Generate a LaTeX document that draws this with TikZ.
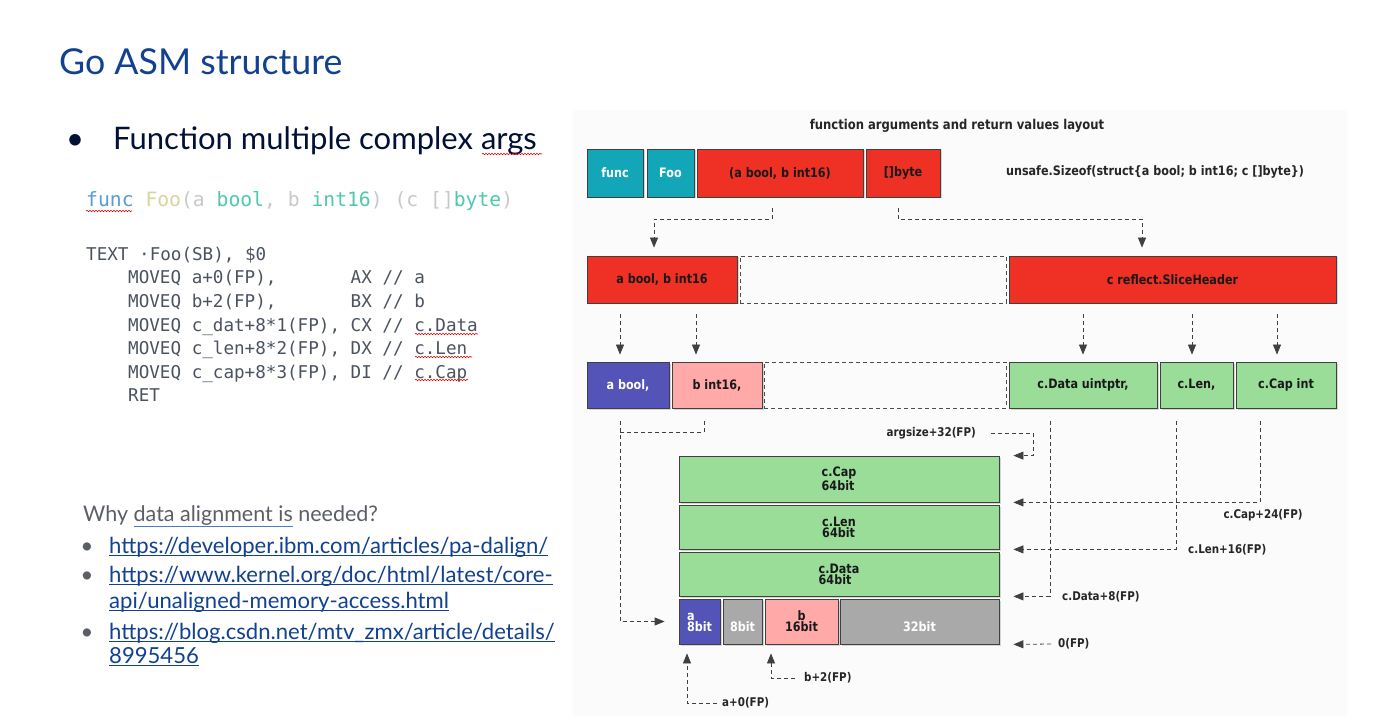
\documentclass[tikz,border=0pt]{standalone}
\usepackage{fontspec}
\usepackage{xcolor}
\usepackage{tikz}
\usetikzlibrary{arrows.meta}
\usetikzlibrary{shadows}
\usetikzlibrary{decorations.pathmorphing}

\setmainfont{Lato}
\newfontfamily\codefont{DejaVu Sans Mono}
\newfontfamily\dgfont{DejaVu Sans}[FakeStretch=0.86]

\definecolor{nokiablue}{HTML}{124191}
\definecolor{inkdark}{HTML}{001135}
\definecolor{whygray}{HTML}{5A5F66}
\definecolor{asmgray}{HTML}{4B5361}
\definecolor{kwblue}{HTML}{569CD6}
\definecolor{fnyellow}{HTML}{D7D59E}
\definecolor{typeteal}{HTML}{4EC9B0}
\definecolor{punctgray}{HTML}{C8C8C8}
\definecolor{markblue}{HTML}{4A7BD0}
\definecolor{goTeal}{HTML}{13A6B9}
\definecolor{goRed}{HTML}{EE3124}
\definecolor{goBlue}{HTML}{5353B8}
\definecolor{goPink}{HTML}{FFA9A9}
\definecolor{goGreen}{HTML}{9ADD99}
\definecolor{goGray}{HTML}{A9A9A9}

\begin{document}
\begin{tikzpicture}[
  x=1pt, y=-1pt,
  box/.style={draw=black!75, line width=0.8pt, inner sep=0pt,
    font=\dgfont\bfseries\fontsize{13}{11}\selectfont,
    drop shadow={opacity=0.3, shadow xshift=1.5pt, shadow yshift=-1.5pt}},
  tealbox/.style={box, fill=goTeal, text=white},
  redbox/.style={box, fill=goRed, text=black!90},
  bluebox/.style={box, fill=goBlue, text=white},
  pinkbox/.style={box, fill=goPink, text=black!90},
  greenbox/.style={box, fill=goGreen, text=black!90},
  graybox/.style={box, fill=goGray, text=white},
  hole/.style={draw=black!70, line width=0.8pt, dash pattern=on 4pt off 3pt, inner sep=0pt},
  dline/.style={draw=black!75, line width=0.8pt, dash pattern=on 4pt off 3pt},
  flow/.style={dline, -{Triangle[length=10pt, width=8pt]}},
  tag/.style={font=\dgfont\bfseries\fontsize{12}{13}\selectfont, text=black!85, inner sep=1pt},
  slide/.style={inner sep=0pt, anchor=base west},
  squiggle/.style={draw=red!85!black, line width=0.6pt, decorate,
    decoration={snake, amplitude=0.7pt, segment length=3pt}},
  uline/.style={draw=nokiablue, line width=0.9pt},
]
  \path[fill=white] (0,0) rectangle (1387,727);
  \useasboundingbox (0,0) rectangle (1387,727);
  \fill[black!1.5] (573,110) rectangle (1347,716);

  % Slide text
  \node[slide, font=\fontsize{35.7}{38}\selectfont, text=nokiablue] (title) at (59,75) {Go ASM structure};
  \node[inner sep=0pt, anchor=base, font=\fontsize{31}{32}\selectfont, text=inkdark] (dot) at (75,150) {•};
  \node[slide, font=\fontsize{31}{32}\selectfont, text=inkdark] (point) at (113,150) {Function multiple complex args};

  \node[slide, font=\codefont\fontsize{19.7}{20}\selectfont] (sig) at (86,207)
    {\textcolor{kwblue}{func} \textcolor{fnyellow}{Foo}\textcolor{punctgray}{(a }\textcolor{typeteal}{bool}\textcolor{punctgray}{, b }\textcolor{typeteal}{int16}\textcolor{punctgray}{) (c []}\textcolor{typeteal}{byte}\textcolor{punctgray}{)}};

  \node[slide, font=\codefont\fontsize{17.6}{18}\selectfont, text=asmgray] (asm0) at (86,261) {TEXT ·Foo(SB), \$0};
  \node[slide, font=\codefont\fontsize{17.6}{18}\selectfont, text=asmgray] (asm1) at (128,284) {MOVEQ a+0(FP),\ \ \ \ \ \ \ AX // a};
  \node[slide, font=\codefont\fontsize{17.6}{18}\selectfont, text=asmgray] (asm2) at (128,307.5) {MOVEQ b+2(FP),\ \ \ \ \ \ \ BX // b};
  \node[slide, font=\codefont\fontsize{17.6}{18}\selectfont, text=asmgray] (asm3) at (128,331) {MOVEQ c\_dat+8*1(FP), CX // c.Data};
  \node[slide, font=\codefont\fontsize{17.6}{18}\selectfont, text=asmgray] (asm4) at (128,354.5) {MOVEQ c\_len+8*2(FP), DX // c.Len};
  \node[slide, font=\codefont\fontsize{17.6}{18}\selectfont, text=asmgray] (asm5) at (128,378) {MOVEQ c\_cap+8*3(FP), DI // c.Cap};
  \node[slide, font=\codefont\fontsize{17.6}{18}\selectfont, text=asmgray] (asm6) at (128,401) {RET};

  \node[slide, font=\fontsize{21.5}{24}\selectfont, text=whygray] (why) at (83,521)
    {Why {\color{markblue}\underline{\textcolor{whygray}{data alignment is}}} needed?};
  \node[inner sep=0pt, anchor=base, font=\fontsize{22}{24}\selectfont, text=whygray] (b1) at (87,553) {•};
  \node[inner sep=0pt, anchor=base, font=\fontsize{22}{24}\selectfont, text=whygray] (b2) at (87,582) {•};
  \node[inner sep=0pt, anchor=base, font=\fontsize{22}{24}\selectfont, text=whygray] (b3) at (87,639) {•};
  \node[slide, font=\fontsize{22.1}{24}\selectfont, text=nokiablue] (l1) at (109,553) {https://developer.ibm.com/articles/pa-dalign/};
  \node[slide, font=\fontsize{22.1}{24}\selectfont, text=nokiablue] (l2) at (109,582) {https://www.kernel.org/doc/html/latest/core-};
  \node[slide, font=\fontsize{22.1}{24}\selectfont, text=nokiablue] (l3) at (109,608) {api/unaligned-memory-access.html};
  \node[slide, font=\fontsize{22.1}{24}\selectfont, text=nokiablue] (l4) at (109,639) {https://blog.csdn.net/mtv\_zmx/article/details/};
  \node[slide, font=\fontsize{22.1}{24}\selectfont, text=nokiablue] (l5) at (109,663) {8995456};
  \foreach \n in {l1,l2,l3,l4,l5}
    \draw[uline] ([yshift=-2.5pt]\n.base west) -- ([yshift=-2.5pt]\n.base east);

  % spell marks
  \draw[squiggle] (86,211) -- (132,211);
  \draw[squiggle] (482,154) -- (542,154);
  \draw[squiggle] (415,334) -- (478,334);
  \draw[squiggle] (415,357) -- (472,357);
  \draw[squiggle] (415,380) -- (468,380);

  % Layout diagram
  \node[tag, font=\dgfont\bfseries\fontsize{13.5}{14}\selectfont] (head) at (957,126) {function arguments and return values layout};

  \node[tealbox, minimum width=56pt, minimum height=48pt] (func) at (615,173) {func};
  \node[tealbox, minimum width=47pt, minimum height=48pt] (foo) at (670.5,173) {Foo};
  \node[redbox, minimum width=166pt, minimum height=48pt] (args) at (780,173) {(a bool, b int16)};
  \node[redbox, minimum width=74pt, minimum height=48pt] (bytes) at (903,173) {[]byte};
  \node[tag, font=\dgfont\bfseries\fontsize{13}{14}\selectfont] (sizeof) at (1155,172) {unsafe.Sizeof(struct\{a bool; b int16; c []byte\})};

  \node[redbox, minimum width=150pt, minimum height=47pt] (ab) at (662,279.5) {a bool, b int16};
  \node[hole, minimum width=266pt, minimum height=47pt] (gap2) at (873,279.5) {};
  \node[redbox, minimum width=327pt, minimum height=47pt] (slice) at (1172.5,279.5) {c reflect.SliceHeader};

  \node[bluebox, minimum width=82pt, minimum height=46pt] (abool) at (628,385) {a bool,};
  \node[pinkbox, minimum width=90pt, minimum height=46pt] (bint) at (717,385) {b int16,};
  \node[hole, minimum width=242pt, minimum height=46pt] (gap3) at (885,385) {};
  \node[greenbox, minimum width=148pt, minimum height=46pt] (cdata) at (1083,385) {c.Data uintptr,};
  \node[greenbox, minimum width=73pt, minimum height=46pt] (clen) at (1196.5,385) {c.Len,};
  \node[greenbox, minimum width=100pt, minimum height=46pt] (ccap) at (1286,385) {c.Cap int};

  % Memory
  \node[greenbox, align=left, minimum width=320pt, minimum height=46pt] (mcap) at (839,479) {c.Cap\\64bit};
  \node[greenbox, align=left, minimum width=320pt, minimum height=44pt] (mlen) at (839,527) {c.Len\\64bit};
  \node[greenbox, align=left, minimum width=320pt, minimum height=44pt] (mdata) at (839,574) {c.Data\\64bit};
  \node[bluebox, align=left, minimum width=41pt, minimum height=45pt] (abit) at (699.5,621.5) {\vphantom{b}a\\8bit};
  \node[graybox, align=center, minimum width=39pt, minimum height=45pt] (pad8) at (742.5,621.5) {\vphantom{b}\\8bit};
  \node[pinkbox, align=center, minimum width=73pt, minimum height=45pt] (bbit) at (801.5,621.5) {b\\16bit};
  \node[graybox, align=center, minimum width=159pt, minimum height=45pt] (pad32) at (919.5,621.5) {\vphantom{b}\\32bit};

  % Offsets
  \node[tag, anchor=east] (argsz) at (977,433) {argsize+32(FP)};
  \node[tag] (capoff) at (1263,515) {c.Cap+24(FP)};
  \node[tag, anchor=west] (lenoff) at (1187,550) {c.Len+16(FP)};
  \node[tag, anchor=west] (dataoff) at (1061,597) {c.Data+8(FP)};
  \node[tag, anchor=west] (zero) at (1057,644) {0(FP)};
  \node[tag, anchor=west] (aoff) at (721,703) {a+0(FP)};
  \node[tag, anchor=west] (boff) at (803,678) {b+2(FP)};

  % Edges
  \draw[flow] ([xshift=-8pt,yshift=-11pt]args.south) -- ++(0,11) -| ([xshift=-8pt,yshift=8pt]ab.north);
  \draw[flow] ([xshift=-5pt,yshift=-11pt]bytes.south) -- ++(0,11) -| ([xshift=-30.5pt,yshift=8pt]slice.north);

  \draw[flow] ([xshift=-42pt,yshift=-11pt]ab.south) -- ([xshift=-8pt,yshift=7pt]abool.north);
  \draw[flow] ([xshift=34pt,yshift=-11pt]ab.south) -- ([xshift=-21pt,yshift=7pt]bint.north);
  \draw[flow] ([xshift=-89.5pt,yshift=-11pt]slice.south) -- ([yshift=7pt]cdata.north);
  \draw[flow] ([xshift=19.5pt,yshift=-11pt]slice.south) -- ([xshift=-4.5pt,yshift=7pt]clen.north);
  \draw[flow] ([xshift=104.5pt,yshift=-11pt]slice.south) -- ([xshift=-9pt,yshift=7pt]ccap.north);

  \draw[dline] ([xshift=-13pt,yshift=-13pt]bint.south) -- ++(0,11) -- ++(-84,0);
  \draw[flow] ([xshift=-8pt,yshift=-13pt]abool.south) |- ([xshift=-14pt]abit.west);

  \draw[flow] ([xshift=14pt]argsz.east) -- ++(42,0) |- ([xshift=14pt]mcap.north east);
  \draw[flow] ([xshift=-26pt,yshift=-13pt]ccap.south) |- ([xshift=14pt]mcap.south east);
  \draw[flow] ([xshift=-20.5pt,yshift=-13pt]clen.south) |- ([xshift=14pt]mlen.south east);
  \draw[flow] ([xshift=-33pt,yshift=-13pt]cdata.south) |- ([xshift=14pt]mdata.south east);
  \draw[flow] ([xshift=-6pt]zero.west) -- ([xshift=14pt]pad32.south east);

  \draw[flow] ([xshift=-4pt]aoff.west) -| ([xshift=-12.5pt,yshift=-9pt]abit.south);
  \draw[flow] ([xshift=-8pt]boff.west) -| ([xshift=-30.5pt,yshift=-9pt]bbit.south);

\end{tikzpicture}
\end{document}
